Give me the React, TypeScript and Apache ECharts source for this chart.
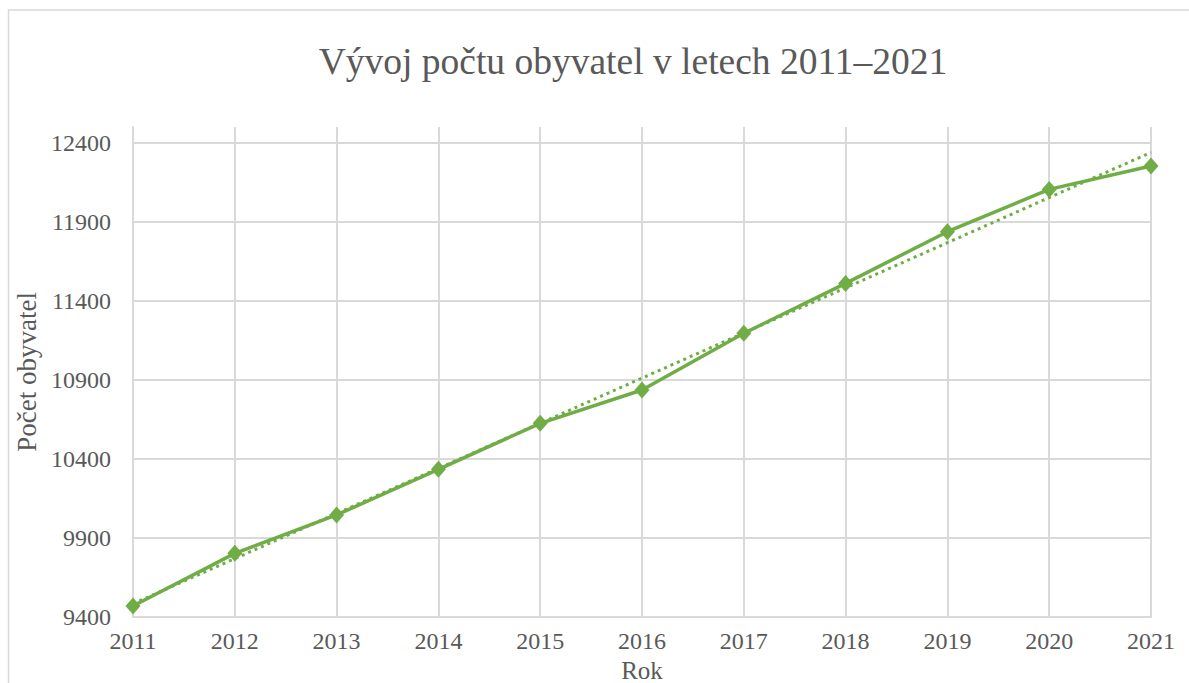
import React, { useEffect, useRef } from "react";
import * as echarts from "echarts";

const years = [2011, 2012, 2013, 2014, 2015, 2016, 2017, 2018, 2019, 2020, 2021];
const population = [9468, 9801, 10044, 10333, 10624, 10835, 11194, 11510, 11837, 12105, 12253];
// linear trendline endpoints
const trendYears = [2011, 2021];
const trendValues = [9482, 12339];

const titleText = "Vývoj počtu obyvatel v letech 2011–2021";
const xName = "Rok";
const yName = "Počet obyvatel";

const GREEN = "#70AD47";
const TEXT = "#595959";
const GRID = "#d9d9d9";
const FONT = "Liberation Serif";

export default function App() {
  const ref = useRef<HTMLDivElement>(null);
  useEffect(() => {
    if (!ref.current) return;
    const chart = echarts.init(ref.current, undefined, { renderer: "svg" });
    chart.setOption({
      animation: false,
      backgroundColor: "#ffffff",
      textStyle: { fontFamily: FONT },
      graphic: [
        {
          type: "rect",
          shape: { x: 8.5, y: 10, width: 1250, height: 720 },
          style: { fill: "none", stroke: GRID, lineWidth: 1.5 },
          silent: true,
          z: -1,
        },
      ],
      title: {
        text: titleText,
        left: 628,
        top: 37,
        textAlign: "center",
        textStyle: { fontFamily: FONT, fontSize: 37.5, fontWeight: "normal", color: TEXT },
      },
      grid: {
        left: 133,
        right: 1189 - 1151,
        top: 127,
        bottom: 683 - 616.7,
        containLabel: false,
        outerBoundsMode: "none",
      },
      xAxis: {
        type: "value",
        min: 2011,
        max: 2021,
        interval: 1,
        name: xName,
        nameLocation: "middle",
        nameGap: 31,
        nameTextStyle: { fontFamily: FONT, fontSize: 25, lineHeight: 25, color: TEXT },
        axisLine: { show: true, lineStyle: { color: GRID, width: 2 } },
        axisTick: { show: false },
        axisLabel: {
          fontFamily: FONT,
          fontSize: 24,
          color: TEXT,
          margin: 12,
          formatter: (v: number) => String(v),
        },
        splitLine: { show: true, lineStyle: { color: GRID, width: 2 } },
      },
      yAxis: {
        type: "value",
        min: 9400,
        max: 12500,
        interval: 500,
        name: yName,
        nameLocation: "middle",
        nameGap: 76,
        nameTextStyle: { fontFamily: FONT, fontSize: 27, color: TEXT },
        axisLine: { show: true, lineStyle: { color: GRID, width: 2 } },
        axisTick: { show: false },
        axisLabel: {
          fontFamily: FONT,
          fontSize: 24,
          color: TEXT,
          margin: 22,
          showMaxLabel: false,
          formatter: (v: number) => String(v),
        },
        splitLine: { show: true, showMaxLine: false, lineStyle: { color: GRID, width: 2 } },
      },
      series: [
        {
          name: "Trend",
          type: "line",
          data: trendYears.map((y, i) => [y, trendValues[i]]),
          symbol: "none",
          lineStyle: { color: GREEN, width: 3, type: [3, 4] },
          z: 2,
        },
        {
          name: "Počet obyvatel",
          type: "line",
          data: years.map((y, i) => [y, population[i]]),
          symbol: "diamond",
          symbolSize: [15, 17],
          itemStyle: { color: GREEN },
          lineStyle: { color: GREEN, width: 3.5 },
          z: 3,
        },
      ],
    });
    return () => chart.dispose();
  }, []);
  return (
    <div
      ref={ref}
      style={{ position: "fixed", left: 0, top: 0, width: 1189, height: 683 }}
    />
  );
}
